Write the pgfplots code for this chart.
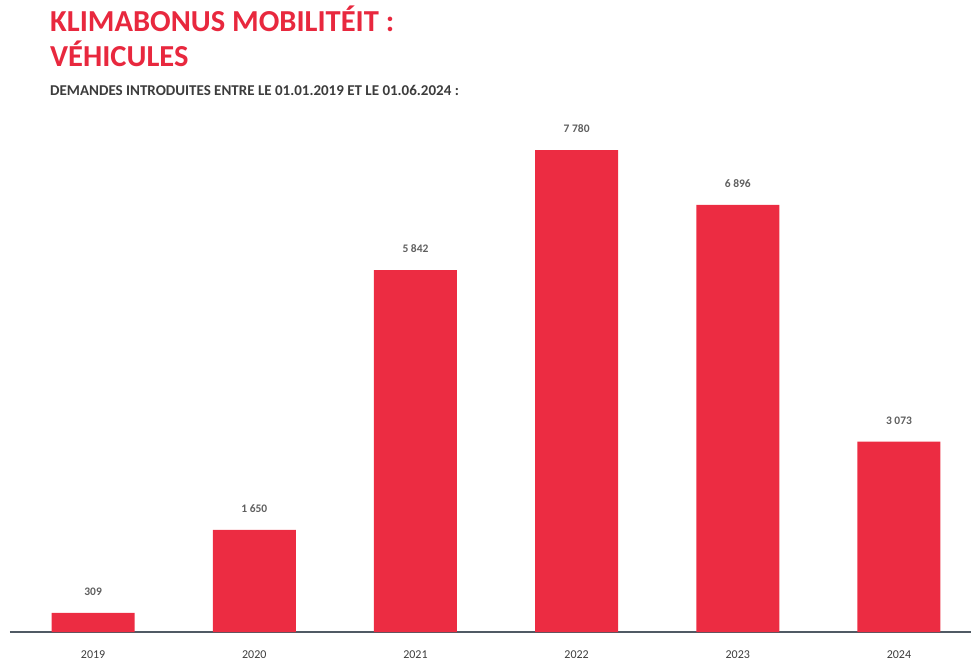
\documentclass[border=0pt]{standalone}
\usepackage{pgfplots}
\pgfplotsset{compat=1.18}
\usepackage{fontspec}
\setmainfont{Carlito}
\definecolor{barred}{RGB}{236,44,66}
\definecolor{titlered}{RGB}{232,40,62}
\definecolor{subgray}{RGB}{60,60,60}
\definecolor{lblgray}{RGB}{95,95,95}
\definecolor{axgray}{RGB}{80,90,100}
\begin{document}
\begin{tikzpicture}[x=1pt,y=1pt]
\useasboundingbox (-10,-30) rectangle (961,632);
\node[anchor=base west,inner sep=0,font=\fontsize{30.5}{32}\selectfont\bfseries,text=titlered] at (40,600) {KLIMABONUS MOBILITÉIT :};
\node[anchor=base west,inner sep=0,font=\fontsize{30.5}{32}\selectfont\bfseries,text=titlered] at (40,565) {VÉHICULES};
\node[anchor=base west,inner sep=0,font=\fontsize{15}{17}\selectfont\bfseries,text=subgray] at (40,536) {DEMANDES INTRODUITES ENTRE LE 01.01.2019 ET LE 01.06.2024 :};
\begin{axis}[
  scale only axis, width=961pt, height=522pt,
  ybar, bar width=83pt,
  xmin=-0.516, xmax=5.447, ymin=0, ymax=8426,
  axis y line=none,
  axis x line*=bottom,
  x axis line style={draw=axgray, line width=1.3pt},
  xtick={0,1,2,3,4,5},
  xticklabels={2019,2020,2021,2022,2023,2024},
  major tick length=0pt,
  xticklabel style={font=\fontsize{12}{13}\selectfont, text=subgray, yshift=-15pt},
  nodes near coords,
  every node near coord/.append style={font=\fontsize{11.5}{12}\selectfont\bfseries, text=lblgray, anchor=south, yshift=14pt},
  /pgf/number format/1000 sep={\ },
  /pgf/number format/assume math mode=true,
  clip=false,
]
\addplot[fill=barred, draw=none] coordinates {(0,309) (1,1650) (2,5842) (3,7780) (4,6896) (5,3073)};
\end{axis}
\end{tikzpicture}
\end{document}
